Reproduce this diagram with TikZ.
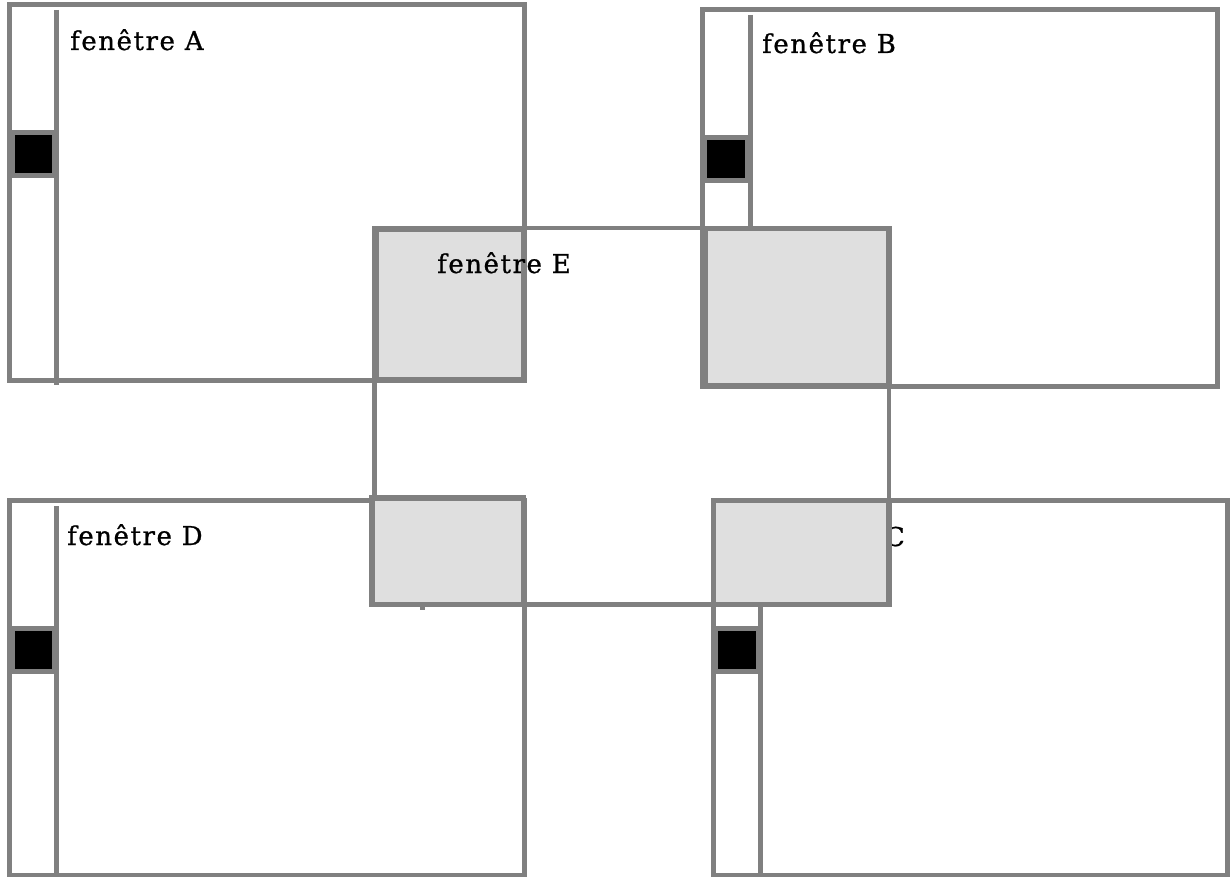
\documentclass[tikz,border=0pt]{standalone}
\usepackage{fontspec}
\setmainfont{DejaVu Serif}[LetterSpace=6,FakeBold=0.9]
\definecolor{framegray}{HTML}{808080}
\definecolor{overlapgray}{HTML}{DFDFDF}
\begin{document}
\begin{tikzpicture}[x=1pt,y=-1pt,
  winframe/.style={draw=framegray,line width=5pt},
  divider/.style={draw=framegray,line width=5pt},
  thumb/.style={draw=framegray,fill=black,line width=5pt},
  overlap/.style={draw=framegray,fill=overlapgray,line width=5.5pt},
  eframe/.style={draw=framegray,line width=4.5pt},
  wlabel/.style={anchor=base west,inner sep=0pt,font=\fontsize{26}{31}\selectfont}]
\useasboundingbox (0,0) rectangle (1230,877);
% window A
\draw[winframe] (9.5,5) rectangle (524,380);
\draw[divider] (56.5,10) -- (56.5,385);
\draw[thumb] (12,132.5) rectangle (54,175.5);
\node[wlabel] (labA) at (70,50) {fenêtre A};
% window B
\draw[winframe] (702.5,9.5) rectangle (1217,386);
\draw[divider] (750,15) -- (750,386);
\draw[thumb] (704.5,137.5) rectangle (747.5,180.5);
\node[wlabel] (labB) at (762,53) {fenêtre B};
% window D
\draw[winframe] (9.5,500.5) rectangle (524,875);
\draw[divider] (56.5,506) -- (56.5,875);
\draw[thumb] (12,628.5) rectangle (54,671.5);
\node[wlabel] (labD) at (67,545) {fenêtre D};
% window C
\draw[winframe] (713.5,500.5) rectangle (1227,875);
\draw[divider] (760.5,506) -- (760.5,875);
\draw[thumb] (715.5,628.5) rectangle (758.5,671.5);
\node[wlabel,anchor=base east] (labC) at (905,546) {fenêtre C};
% window E
\draw[eframe] (374.5,228) rectangle (889,604.5);
\draw[divider] (422,600) -- (422,610);
% overlap regions
\draw[overlap] (376,229) rectangle (524,380);
\draw[overlap] (705.5,228.5) rectangle (889,385.5);
\draw[overlap] (372,498) rectangle (523.5,604.5);
\draw[overlap] (713.5,500.5) rectangle (889,604.5);
\node[wlabel] (labE) at (437,273) {fenêtre E};
\end{tikzpicture}
\end{document}
